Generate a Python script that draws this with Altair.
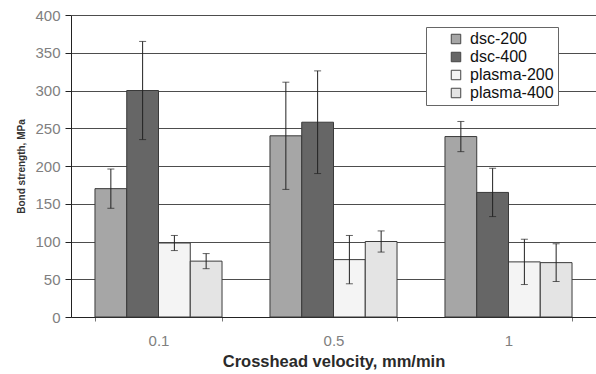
import altair as alt
import pandas as pd

categories = ["0.1", "0.5", "1"]
series = ["dsc-200", "dsc-400", "plasma-200", "plasma-400"]
dsc200 = [170, 240, 239]
dsc400 = [300, 258, 165]
plasma200 = [98, 76, 73]
plasma400 = [74, 100, 72]
dsc200_err = [26, 71, 20]
dsc400_err = [65, 68, 32]
plasma200_err = [10, 32, 30]
plasma400_err = [10, 14, 25]
colors = ["#a6a6a6", "#666666", "#f4f4f4", "#e4e4e4"]

values = [dsc200, dsc400, plasma200, plasma400]
errors = [dsc200_err, dsc400_err, plasma200_err, plasma400_err]
rows = []
for s, vals, errs in zip(series, values, errors):
    for c, v, e in zip(categories, vals, errs):
        rows.append({"velocity": c, "series": s, "value": v, "lo": v - e, "hi": v + e})
df = pd.DataFrame(rows)

FONT = "Liberation Sans"

x = alt.X(
    "velocity:N",
    sort=categories,
    scale=alt.Scale(paddingInner=0.274, paddingOuter=0.137),
    axis=alt.Axis(
        title="Crosshead velocity, mm/min",
        labelAngle=0,
        labelColor="#808080",
        labelFontSize=15,
        labelFont=FONT,
        labelPadding=12,
        tickBand="extent",
        tickSize=4,
        tickColor="#777777",
        domainColor="#222222",
        titleFont=FONT,
        titleFontSize=16.5,
        titleFontWeight="bold",
        titleColor="#2a2a2a",
        titlePadding=5,
        grid=False,
    ),
)
xoff = alt.XOffset("series:N", sort=series, scale=alt.Scale(paddingInner=0, paddingOuter=0))
yscale = alt.Scale(domain=[0, 400], nice=False)
yaxis = alt.Axis(
    title="Bond strength, MPa",
    tickCount=8,
    labelColor="#808080",
    labelFontSize=15,
    labelFont=FONT,
    labelPadding=5,
    labelOverlap=False,
    tickSize=6,
    tickColor="#222222",
    domainColor="#222222",
    grid=True,
    gridColor="#4d4d4d",
    gridWidth=1,
    titleFont=FONT,
    titleFontSize=10,
    titleFontWeight="bold",
    titleColor="#333333",
    titlePadding=8,
)

base = alt.Chart(df)

bars = base.mark_bar(stroke="#3a3a3a", strokeWidth=1).encode(
    x=x,
    xOffset=xoff,
    y=alt.Y("value:Q", scale=yscale, axis=yaxis),
    color=alt.Color(
        "series:N",
        sort=series,
        scale=alt.Scale(domain=series, range=colors),
        legend=alt.Legend(
            title=None,
            orient="none",
            legendX=355,
            legendY=12,
            fillColor="white",
            strokeColor="#666666",
            padding=4,
            symbolType="square",
            symbolSize=90,
            symbolStrokeColor="#444444",
            symbolStrokeWidth=1,
            symbolOffset=18,
            labelFont=FONT,
            labelFontSize=16,
            labelColor="#111111",
            labelOffset=6,
            rowPadding=2,
        ),
    ),
)

rules = base.mark_rule(color="#222222", strokeWidth=1).encode(
    x=x, xOffset=xoff, y=alt.Y("lo:Q", scale=yscale, axis=yaxis), y2="hi:Q"
)
cap_hi = base.mark_tick(color="#222222", thickness=1, size=7).encode(
    x=x, xOffset=xoff, y=alt.Y("hi:Q", scale=yscale, axis=yaxis)
)
cap_lo = base.mark_tick(color="#222222", thickness=1, size=7).encode(
    x=x, xOffset=xoff, y=alt.Y("lo:Q", scale=yscale, axis=yaxis)
)

chart = (
    alt.layer(bars, rules, cap_hi, cap_lo)
    .properties(
        width=525,
        height=302,
        autosize=alt.AutoSizeParams(type="none"),
        padding={"left": 71, "top": 15, "right": 0, "bottom": 57},
        background="white",
    )
    .configure_view(stroke=None)
)

chart.save("out.html", embed_options={"renderer": "svg", "actions": False})
